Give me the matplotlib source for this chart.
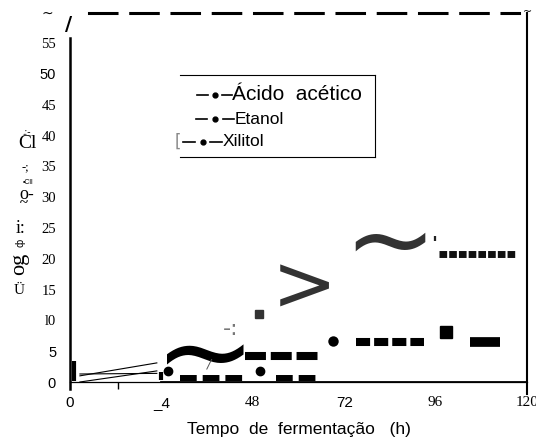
import numpy as np
import matplotlib
matplotlib.use("Agg")
import matplotlib.pyplot as plt
from matplotlib.lines import Line2D

# sample times (h) and concentrations
x_ticks = [0, 24, 48, 72, 96, 120]
x_labels = ["0", "_4", "48", "72", "96", "120"]
y_ticks = [0, 5, 10, 15, 20, 25, 30, 35, 40, 45, 50, 55]
y_labels = ["0", "5", "l0", "15", "20", "25", "30", "35", "40", "45", "50", "55"]
series_names = ["Ácido  acético", "Etanol", "Xilitol"]

# first day (thin lines)
early_t = [2.6, 22.8]
early_acetico = [1.3, 1.4]
early_etanol = [1.0, 3.1]
early_xilitol = [0.0, 1.8]
bar_t = [1.0, 24.0]
bar_v = [1.8, 1.0]
bar_size = [14, 6]

# later segments
acetico_t = [29, 46, np.nan, 54, 65]
acetico_v = [0.65, 0.65, np.nan, 0.65, 0.65]
acetico_dot_t = [25.7, 49.9]
acetico_dot_v = [1.8, 1.8]

etanol_t1 = [46, 65]
etanol_v1 = [4.3, 4.3]
etanol_t2 = [75, 93]
etanol_v2 = [6.5, 6.5]
etanol_t3 = [105, 113]
etanol_v3 = [6.5, 6.5]
etanol_dot_t = [69]
etanol_dot_v = [6.6]
etanol_sq_t = [98.8]
etanol_sq_v = [8.1]

xilitol_t = [97, 117]
xilitol_v = [20.8, 20.8]
xilitol_sq_t = [49.5]
xilitol_sq_v = [11.0]

W, H = 536, 448
fig = plt.figure(figsize=(W / 100, H / 100), dpi=100)
ax = fig.add_axes([70 / W, 1 - 382 / H, 457 / W, 369 / H])
ax.set_xlim(0, 120)
ax.set_ylim(0, 59.9)

def px(x, y):
    return (x / W, 1 - y / H)

serif = "Liberation Serif"
sans = "Liberation Sans"

# spines
ax.spines["left"].set_linewidth(1.8)
ax.spines["left"].set_bounds(-1.2, 55.8)
ax.spines["bottom"].set_linewidth(0.9)
ax.axhline(0, xmin=0.2, xmax=1, color="black", lw=2.0)
ax.spines["right"].set_linewidth(1.5)
ax.spines["right"].set_bounds(-2, 59.9)
ax.spines["top"].set_linewidth(2.2)
ax.spines["top"].set_linestyle((0, (9, 4.5)))
ax.spines["top"].set_bounds(5, 118)

ax.set_xticks(x_ticks)
ax.set_xticklabels(x_labels)
ax.set_yticks(y_ticks)
ax.set_yticklabels(y_labels)
ax.set_xticks([12.5], minor=True)
ax.tick_params(length=0, pad=10)
ax.tick_params(axis="x", which="minor", length=5, width=1)
x_fonts = [sans, sans, serif, sans, serif, serif]
for i, lab in enumerate(ax.get_xticklabels()):
    lab.set_fontfamily(x_fonts[i])
    lab.set_fontsize(11)
for i, lab in enumerate(ax.get_yticklabels()):
    lab.set_fontfamily(sans if y_labels[i] in ("0", "5", "50") else serif)
    lab.set_fontsize(10.5)

# thin lines, first day
ax.plot(early_t, early_acetico, color="black", lw=0.8, clip_on=False)
ax.plot(early_t, early_etanol, color="black", lw=0.8, clip_on=False)
ax.plot(early_t, early_xilitol, color="black", lw=0.8, clip_on=False)
for bt, bv, bs in zip(bar_t, bar_v, bar_size):
    ax.plot([bt], [bv], "|", color="black", ms=bs, mew=3, clip_on=False)

# acetico
ax.plot(acetico_t, acetico_v, color="black", lw=4.3, ls=(0, (2.8, 1.0)))
ax.plot(acetico_dot_t, acetico_dot_v, "o", color="black", ms=6)

# etanol
ax.plot(etanol_t1, etanol_v1, color="black", lw=5.8, ls=(0, (2.6, 0.6)))
ax.plot(etanol_t2, etanol_v2, color="black", lw=5.8, ls=(0, (1.75, 0.5)))
ax.plot(etanol_t3, etanol_v3, color="black", lw=7.0, solid_capstyle="butt")
ax.plot(etanol_dot_t, etanol_dot_v, "o", color="black", ms=7.5, markeredgewidth=0)
ax.plot(etanol_sq_t, etanol_sq_v, "s", color="black", ms=8.5)

# xilitol
ax.plot(xilitol_t, xilitol_v, color="#111111", lw=5.0, ls=(0, (1.1, 0.3)))
ax.plot(xilitol_sq_t, xilitol_sq_v, "s", color="#333333", ms=6)

# garbled glyphs of the original curve
ax.text(35.5, 3.7, "~", fontsize=88, fontfamily="DejaVu Sans", color="black",
        ha="center", va="center")
ax.text(36.5, 2.9, "/", fontsize=9, color="#555555", ha="center", va="center",
        style="italic")
ax.text(42.3, 8.6, "-:", fontsize=16, color="#777777", ha="center", va="center")
ax.text(61.5, 15.2, ">", fontsize=56, fontfamily="DejaVu Sans", color="#333333",
        ha="center", va="center")
ax.text(84.0, 22.0, "~", fontsize=80, fontfamily="DejaVu Sans", color="#333333",
        ha="center", va="center")
ax.text(95.6, 22.4, "'", fontsize=14, fontweight="bold", color="#222222",
        ha="center", va="center")

# legend, drawn by hand (box open on the left)
leg_rows = [95, 119, 142]
leg_handle_x = [(197, 232), (196, 234), (183, 222)]
leg_text_x = [232, 235, 223]
leg_sizes = [15, 12.5, 12.5]
for name, yy, (h0, h1), tx, fs in zip(series_names, leg_rows, leg_handle_x,
                                      leg_text_x, leg_sizes):
    hl = (h1 - h0) * 0.3
    for a, b in [(h0, h0 + hl), (h1 - hl, h1)]:
        fig.add_artist(Line2D([a / W, b / W], [1 - yy / H] * 2, color="black",
                              lw=1.2, transform=fig.transFigure))
    fig.add_artist(Line2D([(h0 + h1) / 2 / W], [1 - yy / H], marker="o", ms=3.5,
                          color="black", transform=fig.transFigure))
    fig.text(tx / W, 1 - yy / H, name, fontsize=fs, fontfamily=sans, va="center")
fig.text(*px(178, 142), "[", fontsize=12, color="#888888", ha="center", va="center")
for yy in (75, 157):
    fig.add_artist(Line2D([180 / W, 375 / W], [1 - yy / H] * 2, color="black",
                          lw=0.8, transform=fig.transFigure))
fig.add_artist(Line2D([375 / W, 375 / W], [1 - 75 / H, 1 - 157 / H], color="black",
                      lw=0.8, transform=fig.transFigure))

# axis label
ax.set_xlabel("Tempo  de  fermentação   (h)", fontsize=12.5, fontfamily=sans, labelpad=9)

# garbled y label pieces
fig.text(*px(27, 132), ".:-", fontsize=7, fontfamily=serif, ha="center", va="center")
fig.text(*px(27, 144), "Cl", fontsize=14, fontfamily=serif, ha="center", va="center")
fig.text(*px(25, 167), "-;", fontsize=9, fontfamily=serif, ha="center", va="center")
fig.text(*px(28, 183), "•Cll", fontsize=5, fontfamily=sans, ha="center", va="center")
fig.text(*px(27, 194), "o-", fontsize=13, fontfamily=serif, ha="center", va="center")
fig.text(*px(24, 204), "~", fontsize=11, fontfamily=serif, fontweight="bold", ha="center", va="center")
fig.text(*px(21, 228), "i:", fontsize=13, fontfamily=serif, ha="center", va="center")
fig.text(*px(20, 243), "ф", fontsize=7, fontfamily="DejaVu Sans", rotation=90, ha="center", va="center")
fig.text(*px(20, 264), "og", fontsize=16, fontfamily=serif, rotation=90, ha="center", va="center")
fig.text(*px(19, 290), "Ü", fontsize=11, fontfamily=serif, ha="center", va="center")

# corner marks
fig.text(*px(47, 14), "~", fontsize=10, ha="center", va="center")
fig.text(*px(527, 12), "~", fontsize=8, ha="center", va="center")
fig.text(*px(69, 25), "/", fontsize=14, fontweight="bold", ha="center", va="center")

fig.savefig("out.png", dpi=100)
